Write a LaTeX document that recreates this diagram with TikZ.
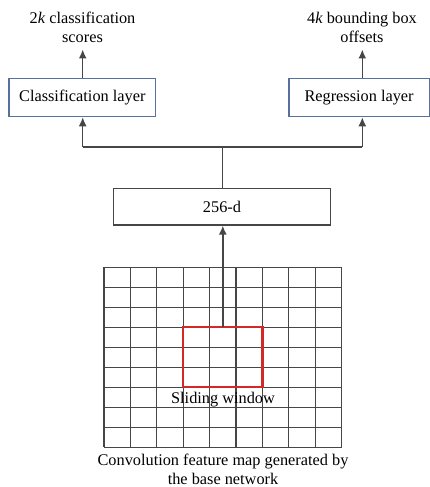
\documentclass[tikz,border=0pt]{standalone}
\usepackage{fontspec}
\setmainfont{Liberation Serif}
\usetikzlibrary{arrows.meta}
\definecolor{layerblue}{RGB}{88,112,160}
\definecolor{gridgray}{RGB}{70,70,70}
\definecolor{winred}{RGB}{210,40,40}
\tikzset{
  txt/.style={font=\fontsize{16.3}{18.5}\selectfont, inner sep=0pt, align=center},
  layerbox/.style={draw=layerblue, line width=1.2pt},
  plainbox/.style={draw=gridgray, line width=1.2pt},
  link/.style={draw=gridgray, line width=1.4pt},
  gridline/.style={draw=gridgray, line width=1.2pt},
  arr/.style={link, -{Latex[length=9pt,width=8pt]}},
}
\begin{document}
\begin{tikzpicture}[x=1pt,y=-1pt]
\useasboundingbox (0,0) rectangle (430,487);

% layer boxes
\node[layerbox, minimum width=146.7pt, minimum height=38.4pt, txt] (cls) at (82.3,97.5) {Classification layer};
\node[layerbox, minimum width=140.3pt, minimum height=38.4pt, txt] (reg) at (359.1,97.5) {Regression layer};

% output labels
\node[txt] (clsout) at (82.5,27.5) {2\textit{k} classification\\scores};
\node[txt] (regout) at (362,27.5) {4\textit{k} bounding box\\offsets};

% 256-d box
\node[plainbox, minimum width=217.4pt, minimum height=36.7pt, txt] (feat) at (222,206.7) {256-d};

% feature map: 9 x 9 cells of 26.4 x 20
\foreach \i in {0,...,9} {
  \draw[gridline] ({104+26.4*\i},267.3) -- ({104+26.4*\i},447.3);
  \draw[gridline] (104,{267.3+20*\i}) -- (341.6,{267.3+20*\i});
}
% sliding window over 3 x 3 cells
\draw[draw=winred, line width=2.2pt] (183.2,327.3) rectangle (262.4,387.3);
\coordinate (win) at (222.8,327.3);
\node[txt] (winlabel) at (223,400) {Sliding window};

% caption
\node[txt] (caption) at (223,469.5) {Convolution feature map generated by\\the base network};

% branch point above the 256-d box
\coordinate (split) at (222.7,146.8);
\coordinate (lbend) at (82.7,146.8);
\coordinate (rbend) at (362.3,146.8);

% connectors
\draw[arr] (win) -- (win |- feat.south);
\draw[link] (feat.north -| split) -- (split);
\draw[link] (lbend) -- (rbend);
\draw[arr] (lbend) -- (lbend |- cls.south);
\draw[arr] (rbend) -- (rbend |- reg.south);
\draw[arr] (cls.north -| lbend) -- (82.7,49.5);
\draw[arr] (reg.north -| rbend) -- (362.3,49.5);
\end{tikzpicture}
\end{document}
